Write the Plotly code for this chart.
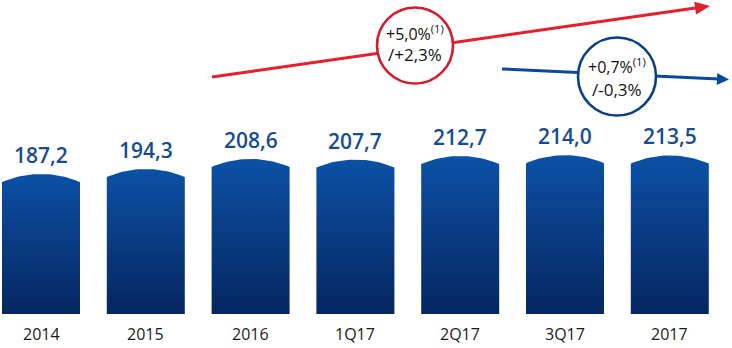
import numpy as np
import plotly.graph_objects as go

categories = ["2014", "2015", "2016", "1Q17", "2Q17", "3Q17", "2017"]
values = [187.2, 194.3, 208.6, 207.7, 212.7, 214.0, 213.5]
value_labels = ["187,2", "194,3", "208,6", "207,7", "212,7", "214,0", "213,5"]
red_badge = ["+5,0%", "(1)", "/+2,3%"]
blue_badge = ["+0,7%", "(1)", "/-0,3%"]

W, H = 732, 348
MB = 34
PLOT_H = H - MB            # 314 px
PX_PER_UNIT = 0.705        # vertical scale
PX_PER_CAT = 104.8
X0 = -41 / PX_PER_CAT
X1 = X0 + W / PX_PER_CAT
Y1 = PLOT_H / PX_PER_UNIT

BAR_PX = 78
HW = BAR_PX / 2 / PX_PER_CAT
SAG = 8.0
R = ((BAR_PX / 2) ** 2 + SAG ** 2) / (2 * SAG)

fig = go.Figure()

for i, v in enumerate(values):
    t = np.linspace(-1, 1, 31)
    xpx = (BAR_PX / 2) * t
    cap_px = np.sqrt(R ** 2 - xpx ** 2) - np.sqrt(R ** 2 - (BAR_PX / 2) ** 2)
    xs = [i - HW] + list(i + HW * t) + [i + HW, i - HW]
    ys = [0] + list(v + cap_px / PX_PER_UNIT) + [0, 0]
    fig.add_trace(go.Scatter(
        x=xs, y=ys, mode="lines", fill="toself",
        line=dict(width=0, color="rgba(0,0,0,0)"),
        fillgradient=dict(type="vertical",
                          colorscale=[[0, "#052661"], [0.6, "#0a3f88"], [1, "#0b51a6"]]),
        hoverinfo="skip", showlegend=False,
    ))
    fig.add_annotation(x=i, y=v, text=value_labels[i], showarrow=False,
                       yanchor="middle", yshift=27,
                       font=dict(family="Open Sans", size=21, color="#174c93", weight=600))
    fig.add_annotation(x=i, y=0, text=categories[i], showarrow=False,
                       yanchor="middle", yshift=-20,
                       font=dict(family="Open Sans", size=16, color="#1a1a1a"))


def px2paper(px, py):
    return px / W, (PLOT_H - py) / PLOT_H


def arrow(x0, y0, x1, y1, color, width, head_len, head_w):
    ax0, ay0 = px2paper(x0, y0)
    dx, dy = x1 - x0, y1 - y0
    L = (dx ** 2 + dy ** 2) ** 0.5
    ux, uy = dx / L, dy / L
    bx, by = x1 - ux * head_len, y1 - uy * head_len
    bx0, by0 = px2paper(bx + ux * 2, by + uy * 2)
    fig.add_shape(type="line", xref="paper", yref="paper",
                  x0=ax0, y0=ay0, x1=bx0, y1=by0,
                  line=dict(color=color, width=width))
    nx, ny = -uy, ux
    p1 = px2paper(x1, y1)
    p2 = px2paper(bx + nx * head_w / 2, by + ny * head_w / 2)
    p3 = px2paper(bx - nx * head_w / 2, by - ny * head_w / 2)
    path = f"M {p1[0]} {p1[1]} L {p2[0]} {p2[1]} L {p3[0]} {p3[1]} Z"
    fig.add_shape(type="path", xref="paper", yref="paper", path=path,
                  fillcolor=color, line=dict(width=0))


def circle(cx, cy, r, color):
    ax, ay = px2paper(cx, cy)
    fig.add_shape(type="circle", xref="paper", yref="paper",
                  xsizemode="pixel", ysizemode="pixel",
                  xanchor=ax, yanchor=ay, x0=-r, x1=r, y0=-r, y1=r,
                  fillcolor="white", line=dict(color=color, width=2.6))


def badge(cx, y1, y2, texts):
    a1 = px2paper(cx, y1)
    a2 = px2paper(cx, y2)
    fig.add_annotation(xref="paper", yref="paper", x=a1[0], y=a1[1],
                       text=f"{texts[0]}<sup>{texts[1]}</sup>",
                       showarrow=False, xanchor="center", yanchor="middle",
                       font=dict(family="Open Sans", size=16, color="#111111"))
    fig.add_annotation(xref="paper", yref="paper", x=a2[0], y=a2[1],
                       text=texts[2], showarrow=False, xanchor="center", yanchor="middle",
                       font=dict(family="Open Sans", size=17, color="#111111"))


arrow(212, 77, 710, 6, "#e3202e", 3, 15, 13)
circle(415, 45.5, 38, "#d21d2f")
badge(415, 33, 55, red_badge)

arrow(502, 69, 729, 79.5, "#0b4a98", 3, 12, 12)
circle(617, 76.5, 39, "#0b3f88")
badge(617, 66, 89, blue_badge)

fig.update_layout(
    width=W, height=H,
    margin=dict(l=0, r=0, t=0, b=MB),
    paper_bgcolor="white", plot_bgcolor="white",
    xaxis=dict(range=[X0, X1], visible=False, showgrid=False, fixedrange=True),
    yaxis=dict(range=[0, Y1], visible=False, showgrid=False, fixedrange=True),
    showlegend=False,
)

fig.write_html("out.html")
